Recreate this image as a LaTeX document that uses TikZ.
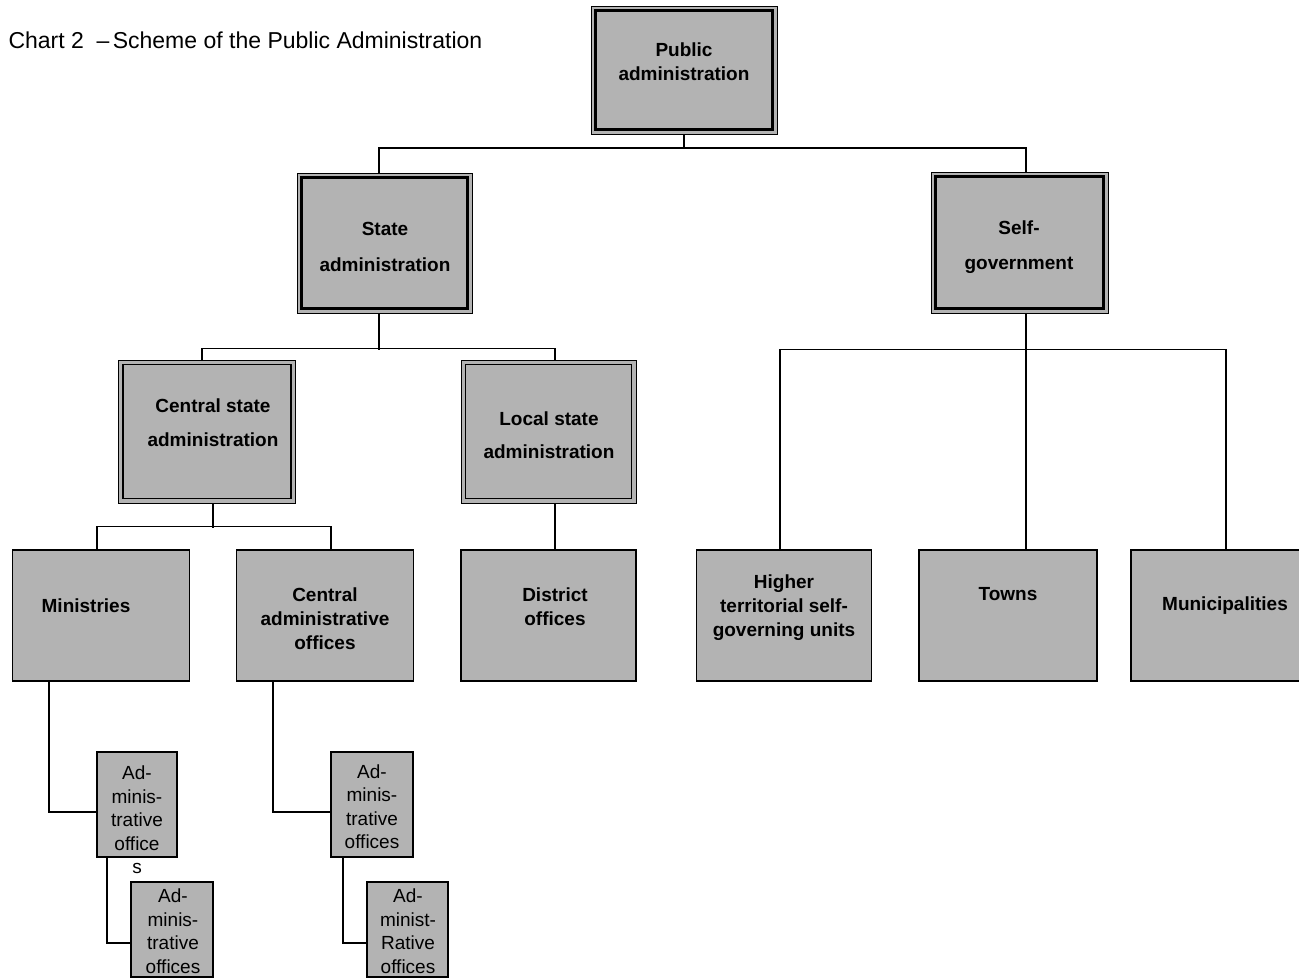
\documentclass[tikz,border=0pt]{standalone}
\usepackage{fontspec}
\setmainfont{Liberation Sans}
\definecolor{boxgray}{RGB}{179,179,179}
\begin{document}
\begin{tikzpicture}[x=1pt,y=-1pt,
  box/.style={draw,line width=1.3pt,fill=boxgray,inner sep=0pt},
  conn/.style={line width=1.3pt},
  big/.style={font=\fontsize{19}{24}\selectfont\bfseries,align=center},
  small/.style={font=\fontsize{19}{23.5}\selectfont,align=center}]
\useasboundingbox (0,0) rectangle (1299,978);

% title
\node[anchor=base west,font=\fontsize{23}{28}\selectfont] (title) at (5,48) {Chart 2\hspace{.55em}–\hspace{.15em}Scheme of the Public Administration};

% boxes
\node[box,line width=1pt,minimum width=186pt,minimum height=128pt] (pa) at (684,70) {};
\node[box,line width=1pt,minimum width=175pt,minimum height=140pt] (sa) at (384.5,243) {};
\node[box,line width=1pt,minimum width=177pt,minimum height=141pt] (sg) at (1019.5,242.5) {};
\node[box,line width=1pt,minimum width=177pt,minimum height=143pt] (csa) at (207,431.5) {};
\node[box,line width=1pt,minimum width=175pt,minimum height=143pt] (lsa) at (548.5,431.5) {};

\node[box,minimum width=177pt,minimum height=131pt] (min) at (101,615.5) {};
\node[box,minimum width=177pt,minimum height=131pt] (cao) at (325,615.5) {};
\node[box,minimum width=175pt,minimum height=131pt] (do) at (548.5,615.5) {};
\node[box,minimum width=175pt,minimum height=131pt] (hts) at (784,615.5) {};
\node[box,minimum width=178pt,minimum height=131pt] (tw) at (1008,615.5) {};
\node[box,minimum width=176pt,minimum height=131pt] (mu) at (1219,615.5) {};

\node[box,minimum width=80pt,minimum height=105pt] (ao1) at (137,804.5) {};
\node[box,minimum width=82pt,minimum height=95pt] (ao2) at (172,929.5) {};
\node[box,minimum width=82pt,minimum height=105pt] (ao3) at (372,804.5) {};
\node[box,minimum width=81pt,minimum height=95pt] (ao4) at (407.5,929.5) {};

% inner frames
\foreach \n in {pa,sa,sg}
\draw[line width=3.8pt] ([shift={(5,5)}]\n.north west) rectangle ([shift={(-5,-5)}]\n.south east);
\foreach \n in {csa,lsa}
\draw[line width=1.8pt] ([shift={(5,5)}]\n.north west) rectangle ([shift={(-5,-5)}]\n.south east);

% connectors
\draw[conn] (pa.south) -- ++(0,14);
\draw[conn] ([xshift=-5.5pt]sa.north) -- ++(0,-24.5) -| ([xshift=6.5pt]sg.north);
\draw[conn] ([xshift=-5.5pt]sa.south) -- ++(0,36);
\draw[conn] ([xshift=-5pt]csa.north) -- ++(0,-11) -| ([xshift=6.5pt]lsa.north);
\draw[conn] ([xshift=6.5pt]sg.south) -- ++(0,37);
\draw[conn] ([xshift=-4pt]hts.north) -- ++(0,-200) -| ([xshift=7pt]mu.north);
\draw[conn] ([xshift=6.5pt]sg.south) -- ([xshift=18pt]tw.north);
\draw[conn] ([xshift=6pt]csa.south) -- ++(0,24);
\draw[conn] ([xshift=-4pt]min.north) -- ++(0,-23) -| ([xshift=6pt]cao.north);
\draw[conn] ([xshift=6.5pt]lsa.south) -- ([xshift=6.5pt]do.north);
\draw[conn] ([xshift=-52pt]min.south) |- ([yshift=-7.5pt]ao1.west);
\draw[conn] ([xshift=-30pt]ao1.south) |- ([yshift=-13.5pt]ao2.west);
\draw[conn] ([xshift=-52pt]cao.south) |- ([yshift=-7.5pt]ao3.west);
\draw[conn] ([xshift=-29pt]ao3.south) |- ([yshift=-13.5pt]ao4.west);

% labels
\node[big] (pa-t) at (684,61.5) {Public\\administration};
\node[big] (sa-t) at (385,247) {State\\[12pt]administration};
\node[big] (sg-t) at (1019,247) {Self-\\[11pt]government};
\node[big] (csa-t) at (213,422.5) {Central state\\[10pt]administration};
\node[big] (lsa-t) at (549,435) {Local state\\[9pt]administration};
\node[big] (min-t) at (86,605.5) {Ministries};
\node[big] (cao-t) at (325,618.5) {Central\\administrative\\offices};
\node[big] (do-t) at (555,606.3) {District\\offices};
\node[big] (hts-t) at (784,607.5) {Higher\\territorial self-\\governing units};
\node[big] (tw-t) at (1008,594.5) {Towns};
\node[big] (mu-t) at (1225,605.5) {Municipalities};
\node[small] (ao1-t) at (137,820) {Ad-\\minis-\\trative\\office\\s};
\node[small] (ao2-t) at (173,931) {Ad-\\minis-\\trative\\offices};
\node[small] (ao3-t) at (372,806.5) {Ad-\\minis-\\trative\\offices};
\node[small] (ao4-t) at (408,931) {Ad-\\minist-\\Rative\\offices};
\end{tikzpicture}
\end{document}
